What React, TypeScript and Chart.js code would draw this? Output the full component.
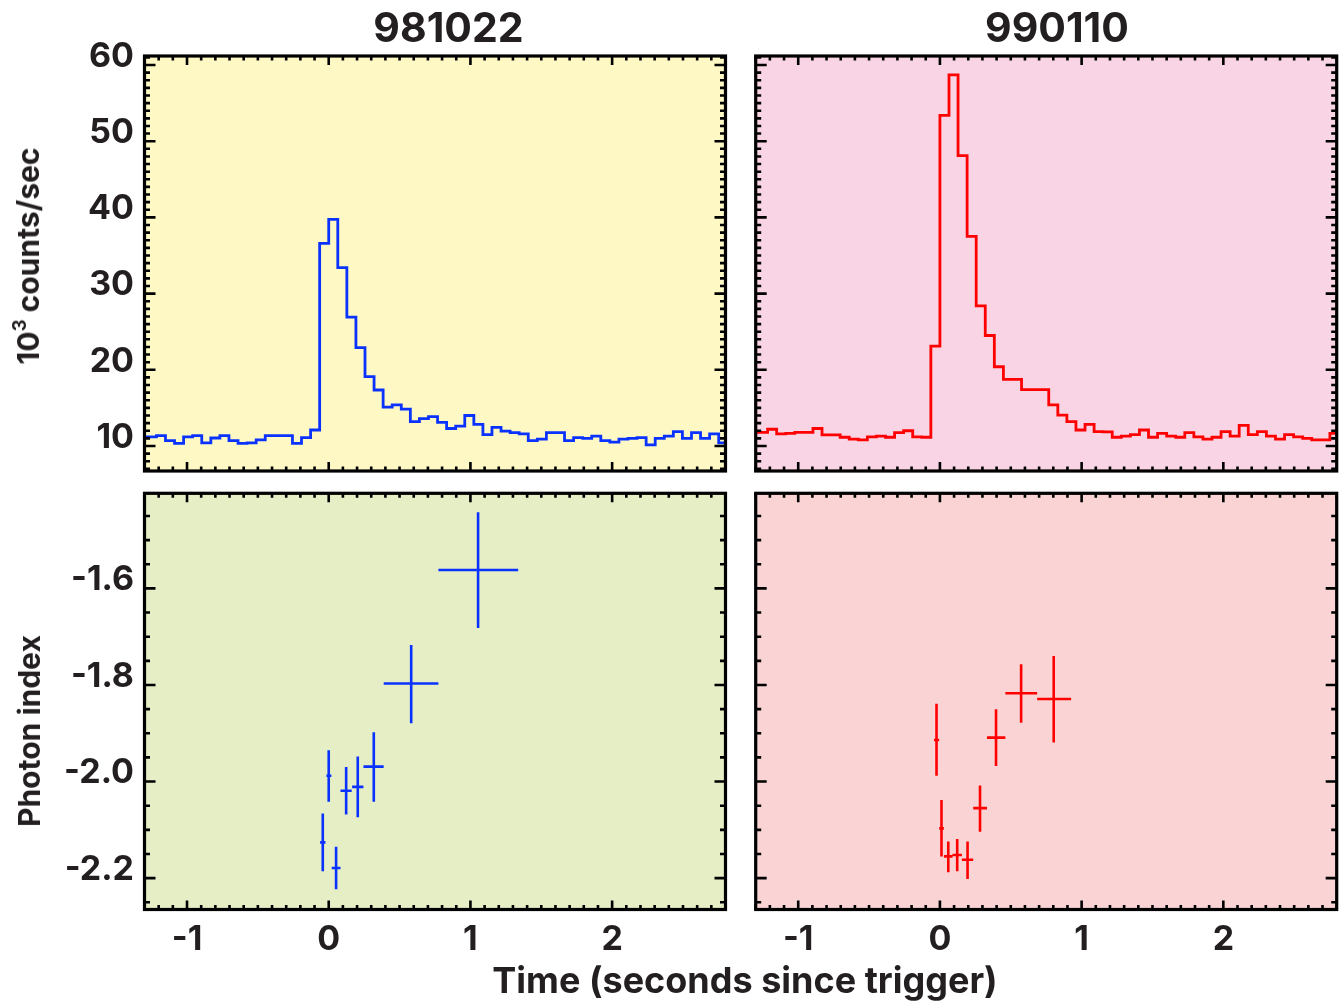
import React, { useEffect, useRef } from 'react';
import { Chart, registerables } from 'chart.js';

Chart.register(...registerables);

// ---------------- data ----------------
const BIN_WIDTH = 0.064; // seconds (64 ms bins)
const FIRST_BIN_INDEX = -21; // first bin starts at FIRST_BIN_INDEX * BIN_WIDTH

// 10^3 counts/sec, one value per 64 ms bin
const RATE_981022 = [
  11.2, 11.2, 11.35, 10.7, 10.35, 11.2, 11.35, 10.4, 11.05, 11.35,
  10.7, 10.35, 10.4, 10.8, 11.35, 11.35, 11.35, 10.35, 11.1, 12.1,
  36.6, 39.75, 33.4, 26.9, 22.9, 19.1, 17.35, 15.1, 15.4, 14.85,
  13.2, 13.6, 13.85, 13.1, 12.3, 12.6, 14.0, 12.85, 11.5, 12.45,
  11.95, 11.75, 11.6, 10.7, 10.9, 11.75, 11.75, 10.7, 11.1, 11.0,
  11.3, 10.7, 10.5, 10.9, 11.0, 11.1, 10.15, 11.0, 11.3, 11.9,
  11.0, 11.75, 11.0, 11.6, 10.4,
];
const RATE_990110 = [
  11.8, 11.8, 12.2, 11.6, 11.65, 11.8, 11.8, 12.3, 11.45, 11.45,
  11.15, 10.9, 10.8, 11.2, 11.3, 11.15, 11.75, 12.0, 11.2, 11.15,
  23.1, 53.4, 58.7, 48.1, 37.5, 28.4, 24.5, 20.4, 18.75, 18.75,
  17.4, 17.4, 17.4, 15.4, 14.05, 13.2, 12.1, 12.85, 11.9, 11.85,
  11.15, 11.3, 11.5, 12.1, 11.15, 11.65, 11.3, 11.15, 11.75, 11.2,
  10.9, 11.15, 11.9, 11.3, 12.7, 11.5, 11.9, 11.3, 10.9, 11.5,
  11.2, 11.0, 10.8, 10.8, 11.65,
];

// photon index spectra: time centre, time range, index and its error range
const T_981022 = [-0.042, 0.0, 0.052, 0.123, 0.205, 0.318, 0.582, 1.054];
const T_LO_981022 = [-0.061, -0.016, 0.021, 0.083, 0.165, 0.245, 0.388, 0.774];
const T_HI_981022 = [-0.023, 0.019, 0.083, 0.162, 0.245, 0.388, 0.774, 1.337];
const IDX_981022 = [-2.126, -1.988, -2.179, -2.019, -2.011, -1.969, -1.797, -1.562];
const IDX_LO_981022 = [-2.186, -2.042, -2.223, -2.068, -2.074, -2.042, -1.879, -1.682];
const IDX_HI_981022 = [-2.066, -1.935, -2.135, -1.970, -1.948, -1.898, -1.717, -1.442];

const T_990110 = [-0.024, 0.011, 0.059, 0.122, 0.195, 0.283, 0.396, 0.573, 0.803];
const T_LO_990110 = [-0.042, -0.005, 0.028, 0.089, 0.155, 0.235, 0.332, 0.462, 0.686];
const T_HI_990110 = [-0.005, 0.028, 0.089, 0.155, 0.235, 0.332, 0.462, 0.686, 0.926];
const IDX_990110 = [-1.914, -2.097, -2.155, -2.152, -2.162, -2.055, -1.909, -1.817, -1.829];
const IDX_LO_990110 = [-1.988, -2.155, -2.188, -2.186, -2.202, -2.104, -1.968, -1.878, -1.919];
const IDX_HI_990110 = [-1.839, -2.038, -2.124, -2.119, -2.124, -2.008, -1.850, -1.757, -1.740];

// axes
const TIME_MIN = -1.3;
const TIME_MAX = 2.8;
const X_TICKS = [-1, 0, 1, 2];
const X_TICK_LABELS = ['-1', '0', '1', '2'];
const X_MINOR = 0.1;

const RATE_MIN = 6.72;
const RATE_MAX = 61.18;
const RATE_TICKS = [10, 20, 30, 40, 50, 60];
const RATE_TICK_LABELS = ['10', '20', '30', '40', '50', '60'];
const RATE_MINOR = 1;

const INDEX_MIN = -2.265;
const INDEX_MAX = -1.403;
const INDEX_TICKS = [-2.2, -2.0, -1.8, -1.6];
const INDEX_TICK_LABELS = ['-2.2', '-2.0', '-1.8', '-1.6'];
const INDEX_MINOR = 0.05;

const TITLES = ['981022', '990110'];
const X_TITLE = 'Time (seconds since trigger)';
const Y_TITLE_RATE = 'counts/sec';
const Y_TITLE_INDEX = 'Photon index';

// ---------------- styles ----------------
const FONT = 'Inter, "Liberation Sans", sans-serif';
const TEXT_COLOR = '#231f20';
const BLUE = 'rgb(10, 50, 255)';
const RED = 'rgb(255, 0, 0)';

// ---------------- plugins ----------------
function makeFramePlugin(cfg: {
  background: string;
  xMajor: number[];
  xMinor: number;
  yMajor: number[];
  yMinor: number;
}) {
  const ticksFor = (min: number, max: number, step: number) => {
    const out: number[] = [];
    const k0 = Math.ceil(min / step - 1e-9);
    const k1 = Math.floor(max / step + 1e-9);
    for (let k = k0; k <= k1; k++) out.push(k * step);
    return out;
  };
  const isMajor = (v: number, majors: number[]) => majors.some((m) => Math.abs(m - v) < 1e-6);
  return {
    id: 'panelFrame',
    beforeDatasetsDraw(chart: any) {
      const { ctx, chartArea: a } = chart;
      ctx.save();
      ctx.fillStyle = cfg.background;
      ctx.fillRect(a.left, a.top, a.right - a.left, a.bottom - a.top);
      ctx.restore();
    },
    afterDatasetsDraw(chart: any) {
      const { ctx, chartArea: a, scales } = chart;
      const xs = scales.x;
      const ys = scales.y;
      ctx.save();
      ctx.strokeStyle = '#000';
      ctx.lineCap = 'butt';
      ctx.lineWidth = 2.6;
      ctx.beginPath();
      for (const v of ticksFor(xs.min, xs.max, cfg.xMinor)) {
        const len = isMajor(v, cfg.xMajor) ? 9 : 4.5;
        const px = xs.getPixelForValue(v);
        ctx.moveTo(px, a.bottom);
        ctx.lineTo(px, a.bottom - len);
        ctx.moveTo(px, a.top);
        ctx.lineTo(px, a.top + len);
      }
      for (const v of ticksFor(ys.min, ys.max, cfg.yMinor)) {
        const len = isMajor(v, cfg.yMajor) ? 11 : 5.5;
        const py = ys.getPixelForValue(v);
        ctx.moveTo(a.left, py);
        ctx.lineTo(a.left + len, py);
        ctx.moveTo(a.right, py);
        ctx.lineTo(a.right - len, py);
      }
      ctx.stroke();
      ctx.lineWidth = 3.2;
      ctx.strokeRect(a.left, a.top, a.right - a.left, a.bottom - a.top);
      ctx.restore();
    },
  };
}

function makeErrorBarPlugin(e: {
  xLo: number[];
  xHi: number[];
  yLo: number[];
  yHi: number[];
  color: string;
}) {
  return {
    id: 'errorBars',
    afterDatasetsDraw(chart: any) {
      const { ctx, scales } = chart;
      const xs = scales.x;
      const ys = scales.y;
      const data = chart.data.datasets[0].data as { x: number; y: number }[];
      ctx.save();
      ctx.strokeStyle = e.color;
      ctx.lineWidth = 2.6;
      ctx.lineCap = 'butt';
      ctx.beginPath();
      data.forEach((p, i) => {
        const px = xs.getPixelForValue(p.x);
        const py = ys.getPixelForValue(p.y);
        ctx.moveTo(xs.getPixelForValue(e.xLo[i]), py);
        ctx.lineTo(xs.getPixelForValue(e.xHi[i]), py);
        ctx.moveTo(px, ys.getPixelForValue(e.yLo[i]));
        ctx.lineTo(px, ys.getPixelForValue(e.yHi[i]));
      });
      ctx.stroke();
      ctx.restore();
    },
  };
}

function histogramPoints(rates: number[]) {
  const pts = rates.map((r, i) => ({ x: (FIRST_BIN_INDEX + i) * BIN_WIDTH, y: r }));
  pts.push({ x: (FIRST_BIN_INDEX + rates.length) * BIN_WIDTH, y: rates[rates.length - 1] });
  return pts;
}

type PanelSpec = {
  kind: 'rate' | 'index';
  showY: boolean;
  showX: boolean;
  yWidth: number;
  xHeight: number;
  padding: { left: number; top: number; right: number; bottom: number };
  background: string;
  color: string;
  rates?: number[];
  t?: number[];
  tLo?: number[];
  tHi?: number[];
  idx?: number[];
  idxLo?: number[];
  idxHi?: number[];
};

function buildConfig(p: PanelSpec): any {
  const isRate = p.kind === 'rate';
  const yTicks = isRate ? RATE_TICKS : INDEX_TICKS;
  const yLabels = isRate ? RATE_TICK_LABELS : INDEX_TICK_LABELS;
  const tickFont = { family: FONT, size: 34, weight: 'bold' as const };

  const plugins: any[] = [
    makeFramePlugin({
      background: p.background,
      xMajor: X_TICKS,
      xMinor: X_MINOR,
      yMajor: yTicks,
      yMinor: isRate ? RATE_MINOR : INDEX_MINOR,
    }),
  ];

  let datasets: any[];
  if (isRate) {
    datasets = [
      {
        type: 'line',
        data: histogramPoints(p.rates!),
        stepped: 'before',
        borderColor: p.color,
        borderWidth: 2.8,
        pointRadius: 0,
        fill: false,
        tension: 0,
      },
    ];
  } else {
    datasets = [
      {
        type: 'scatter',
        data: p.t!.map((t, i) => ({ x: t, y: p.idx![i] })),
        borderColor: p.color,
        backgroundColor: p.color,
        pointRadius: 0,
        showLine: false,
      },
    ];
    plugins.push(
      makeErrorBarPlugin({ xLo: p.tLo!, xHi: p.tHi!, yLo: p.idxLo!, yHi: p.idxHi!, color: p.color })
    );
  }

  const noPad = (s: any) => {
    s.paddingTop = 0;
    s.paddingBottom = 0;
    s.paddingLeft = 0;
    s.paddingRight = 0;
  };

  return {
    type: 'line',
    data: { datasets },
    plugins,
    options: {
      responsive: false,
      animation: false,
      events: [],
      layout: { padding: p.padding },
      plugins: { legend: { display: false }, tooltip: { enabled: false }, title: { display: false } },
      scales: {
        x: {
          type: 'linear',
          min: TIME_MIN,
          max: TIME_MAX,
          grid: { display: false, drawTicks: false },
          border: { display: false },
          ticks: {
            display: p.showX,
            font: tickFont,
            color: TEXT_COLOR,
            padding: 10,
            maxRotation: 0,
            autoSkip: false,
            callback: (_v: any, i: number) => X_TICK_LABELS[i],
          },
          afterBuildTicks: (s: any) => {
            s.ticks = X_TICKS.map((v) => ({ value: v }));
          },
          afterFit: (s: any) => {
            s.height = p.xHeight;
            noPad(s);
          },
        },
        y: {
          type: 'linear',
          min: isRate ? RATE_MIN : INDEX_MIN,
          max: isRate ? RATE_MAX : INDEX_MAX,
          grid: { display: false, drawTicks: false },
          border: { display: false },
          ticks: {
            display: p.showY,
            font: tickFont,
            color: TEXT_COLOR,
            padding: 10.5,
            labelOffset: -8.5,
            autoSkip: false,
            callback: (_v: any, i: number) => yLabels[i],
          },
          afterBuildTicks: (s: any) => {
            s.ticks = yTicks.map((v) => ({ value: v }));
          },
          afterFit: (s: any) => {
            s.width = p.yWidth;
            noPad(s);
          },
        },
      },
    },
  };
}

function Panel({ left, top, width, height, spec }: { left: number; top: number; width: number; height: number; spec: PanelSpec }) {
  const ref = useRef<HTMLCanvasElement>(null);
  useEffect(() => {
    const chart = new Chart(ref.current as HTMLCanvasElement, buildConfig(spec));
    return () => chart.destroy();
  }, []);
  return (
    <canvas
      ref={ref}
      width={width}
      height={height}
      style={{ position: 'absolute', left, top, width, height, display: 'block' }}
    />
  );
}

function Label({ cx, cy, size, rotate, children }: { cx: number; cy: number; size: number; rotate?: boolean; children: any }) {
  return (
    <div
      style={{
        position: 'absolute',
        left: cx,
        top: cy,
        transform: `translate(-50%, -50%)${rotate ? ' rotate(-90deg)' : ''}`,
        fontFamily: FONT,
        fontWeight: 700,
        fontSize: size,
        lineHeight: 1,
        whiteSpace: 'nowrap',
        color: TEXT_COLOR,
      }}
    >
      {children}
    </div>
  );
}

export default function App() {
  const LEFT_W = 740;
  const RIGHT_W = 603;
  const TOP_H = 482;
  const BOT_H = 519;
  return (
    <div
      style={{
        position: 'absolute',
        left: 0,
        top: 0,
        width: 1343,
        height: 1001,
        overflow: 'hidden',
        background: '#ffffff',
      }}
    >
      <Panel
        left={0}
        top={0}
        width={LEFT_W}
        height={TOP_H}
        spec={{
          kind: 'rate',
          showY: true,
          showX: false,
          yWidth: 144.5,
          xHeight: 0,
          padding: { left: 0, top: 56, right: 14.5, bottom: 11 },
          background: 'rgb(254, 248, 196)',
          color: BLUE,
          rates: RATE_981022,
        }}
      />
      <Panel
        left={LEFT_W}
        top={0}
        width={RIGHT_W}
        height={TOP_H}
        spec={{
          kind: 'rate',
          showY: false,
          showX: false,
          yWidth: 15.7,
          xHeight: 0,
          padding: { left: 0, top: 56, right: 6.3, bottom: 11 },
          background: 'rgb(249, 212, 228)',
          color: RED,
          rates: RATE_990110,
        }}
      />
      <Panel
        left={0}
        top={TOP_H}
        width={LEFT_W}
        height={BOT_H}
        spec={{
          kind: 'index',
          showY: true,
          showX: true,
          yWidth: 144.5,
          xHeight: 91.5,
          padding: { left: 0, top: 11.3, right: 14.5, bottom: 0 },
          background: 'rgb(229, 238, 197)',
          color: BLUE,
          t: T_981022,
          tLo: T_LO_981022,
          tHi: T_HI_981022,
          idx: IDX_981022,
          idxLo: IDX_LO_981022,
          idxHi: IDX_HI_981022,
        }}
      />
      <Panel
        left={LEFT_W}
        top={TOP_H}
        width={RIGHT_W}
        height={BOT_H}
        spec={{
          kind: 'index',
          showY: false,
          showX: true,
          yWidth: 15.7,
          xHeight: 91.5,
          padding: { left: 0, top: 11.3, right: 6.3, bottom: 0 },
          background: 'rgb(250, 212, 212)',
          color: RED,
          t: T_990110,
          tLo: T_LO_990110,
          tHi: T_HI_990110,
          idx: IDX_990110,
          idxLo: IDX_LO_990110,
          idxHi: IDX_HI_990110,
        }}
      />
      <Label cx={448.5} cy={27} size={41}>{TITLES[0]}</Label>
      <Label cx={1057} cy={27} size={41}>{TITLES[1]}</Label>
      <Label cx={28} cy={256} size={30} rotate>
        10<span style={{ fontSize: '0.62em', position: 'relative', top: '-0.7em' }}>3</span> {Y_TITLE_RATE}
      </Label>
      <Label cx={29} cy={731} size={30} rotate>{Y_TITLE_INDEX}</Label>
      <Label cx={745} cy={980} size={36}>{X_TITLE}</Label>
    </div>
  );
}
